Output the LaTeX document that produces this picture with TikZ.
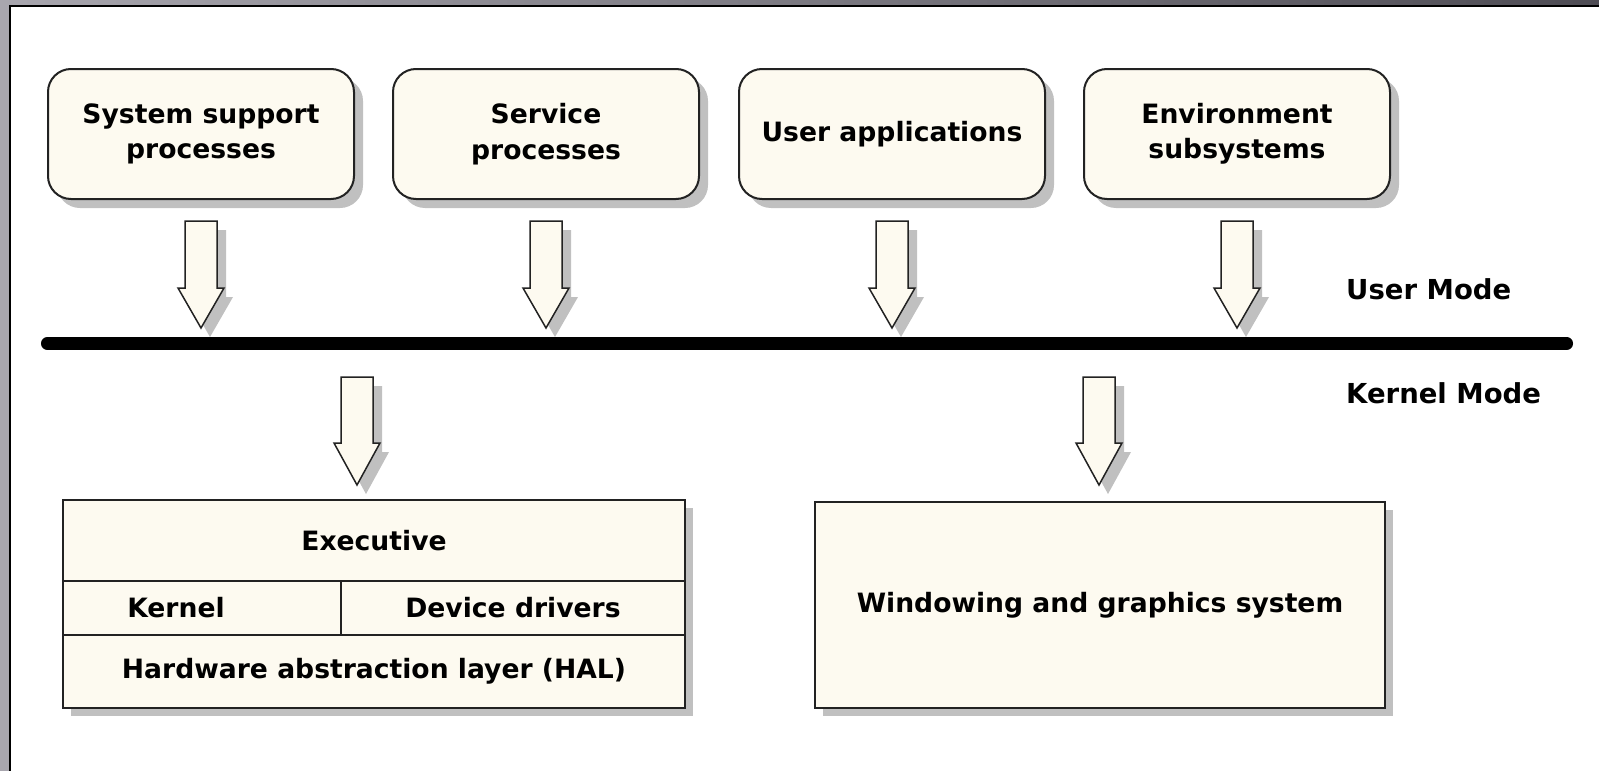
\documentclass[tikz,border=0pt]{standalone}
\usepackage{fontspec}
\setmainfont{DejaVu Sans}
\usetikzlibrary{shadows}
\definecolor{boxfill}{RGB}{253,250,240}
\definecolor{shadowgray}{RGB}{192,192,192}
\definecolor{edgegray}{RGB}{34,34,34}
\definecolor{framelight}{RGB}{168,166,174}
\definecolor{framedark}{RGB}{78,76,84}
\tikzset{
  labeltext/.style={font=\bfseries\fontsize{26.6}{35.5}\selectfont, align=center},
  procbox/.style={labeltext, draw=edgegray, line width=2pt, fill=boxfill,
    rounded corners=23pt, minimum width=306pt, minimum height=130pt,
    drop shadow={shadow xshift=9pt, shadow yshift=-9pt, fill=shadowgray, opacity=1}},
  cell/.style={labeltext, draw=edgegray, line width=2pt, fill=boxfill, inner sep=0pt},
  modetext/.style={font=\bfseries\fontsize{27.5}{35}\selectfont, anchor=west, inner sep=0pt},
  pics/downarrow/.style args={#1/#2}{code={
    % #1 = shaft length, #2 = total length
    \fill[shadowgray, shift={(9,9)}] (-16,0) -- (16,0) -- (16,#1) -- (23,#1) -- (0,#2)
      -- (-23,#1) -- (-16,#1) -- cycle;
    \filldraw[fill=boxfill, draw=edgegray, line width=1.5pt, line join=miter]
      (-16,0) -- (16,0) -- (16,#1) -- (23,#1) -- (0,#2) -- (-23,#1) -- (-16,#1) -- cycle;
  }},
}
\begin{document}
\begin{tikzpicture}[x=1pt, y=-1pt]
\useasboundingbox (0,0) rectangle (1599,771);
\fill[white] (0,0) rectangle (1599,771);

% window frame
\shade[left color=framelight, right color=framedark] (0,0) rectangle (1599,5);
\fill[framelight] (0,0) rectangle (9,771);
\draw[line width=2pt, black] (10,771) -- (10,6) -- (1599,6);

% user-mode processes
\node[procbox] (sys) at (201,134) {System support\\processes};
\node[procbox] (svc) at (546,134) {Service\\processes};
\node[procbox] (app) at (892,134) {User applications};
\node[procbox] (env) at (1237,134) {Environment\\subsystems};

% arrows down to the mode boundary
\pic (asys) at (201,221) {downarrow=67/107};
\pic (asvc) at (546,221) {downarrow=67/107};
\pic (aapp) at (892,221) {downarrow=67/107};
\pic (aenv) at (1237,221) {downarrow=67/107};

% user / kernel boundary
\coordinate (lineL) at (47.5,343.5);
\coordinate (lineR) at (1566.5,343.5);
\draw[shadowgray, line width=13pt, line cap=round, shift={(8,8)}] (lineL) -- (lineR);
\draw[black, line width=13pt, line cap=round] (lineL) -- (lineR);

\node[modetext] (umode) at (1346,289) {User Mode};
\node[modetext] (kmode) at (1346,393) {Kernel Mode};

% arrows into the kernel components
\pic (aexe) at (357,377) {downarrow=66/108};
\pic (awin) at (1099,377) {downarrow=66/108};

% executive stack
\fill[shadowgray] (71,508) rectangle (693,716);
\node[cell, minimum width=622pt, minimum height=81pt, anchor=north west] (exec) at (62,499) {};
\node[labeltext] at (exec.center) {Executive};
\node[cell, minimum width=278pt, minimum height=54pt, anchor=north west] (kern) at (62,580) {};
\node[labeltext] at (176,608) {Kernel};
\node[cell, minimum width=344pt, minimum height=54pt, anchor=north west] (drv) at (340,580) {Device drivers};
\node[cell, minimum width=622pt, minimum height=73pt, anchor=north west] (hal) at (62,634) {Hardware abstraction layer (HAL)};

% windowing subsystem
\fill[shadowgray] (823,510) rectangle (1393,716);
\node[cell, minimum width=570pt, minimum height=206pt, anchor=north west] (win) at (814,501) {Windowing and graphics system};
\end{tikzpicture}
\end{document}
